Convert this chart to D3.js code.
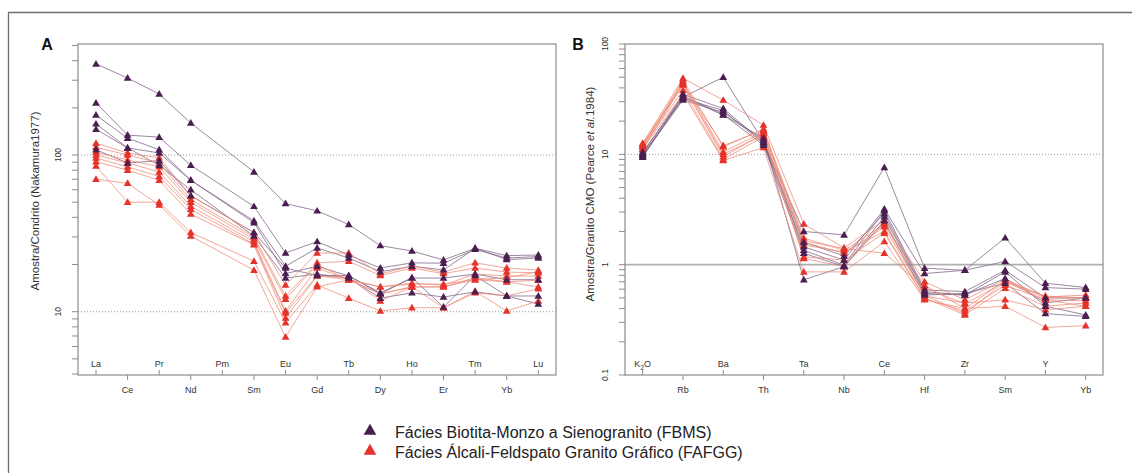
<!DOCTYPE html>
<html lang="pt">
<head>
  <meta charset="UTF-8">
  <title>Diagramas multielementares</title>
  <style>
    body { margin: 0; background: #fff; }
    svg { display: block; font-family: "Liberation Sans", Arial, sans-serif; }
  </style>
</head>
<body>
<div id="chart-container"></div>
<script src="https://d3js.org/d3.v7.min.js"></script>
<script>

// Elementos (eixo x) de cada diagrama
const reeElements = ["La", "Ce", "Pr", "Nd", "Pm", "Sm", "Eu", "Gd", "Tb", "Dy", "Ho", "Er", "Tm", "Yb", "Lu"];
const spiderElements = ["K2O", "Rb", "Ba", "Th", "Ta", "Nb", "Ce", "Hf", "Zr", "Sm", "Y", "Yb"];

// A - ETR normalizados ao condrito (Pm nao analisado)
const reeFBMS = [
  [381, 310, 245, 160, null, 78, 49, 44, 36, 26.4, 24.4, 21.4, 25.4, 22.8, 23.0],
  [215, 134, 130, 86, null, 47, 23.7, 28, 23, 19, 20.5, 20.4, 25, 22, 22.5],
  [180, 128, 108, 69, null, 38, 19.5, 25.5, 22, 18, 19.5, 18.5, 25.4, 21.5, 22],
  [158, 111, 103, 69, null, 37, 17.5, 19.5, 16.9, 13.2, 16.4, 16.4, 17.4, 16, 16],
  [146, 111, 86, 60, null, 30.4, 16.4, 17.4, 16.4, 12.2, 13.2, 12.4, 13.4, 12.6, 12.6],
  [108, 89, 92, 55, null, 32, 19, 17, 17, 13, 16.5, 10.7, 17, 12.6, 11.2]
];
const reeFAFGG = [
  [119, 103, 96, 55, null, 32, 14.8, 23.7, 23.7, 17.4, 19.6, 17.9, 20.5, 19, 18.4],
  [112, 100, 89, 52, null, 30, 12.6, 20.5, 21, 17, 19, 17.5, 19, 17.9, 17.7],
  [104, 93, 84, 50, null, 29, 12, 20, 16, 14.4, 15.2, 14.8, 17.4, 16.9, 16.9],
  [100, 89, 78, 47, null, 28, 10.1, 19, 16, 13, 14.4, 14.4, 16.5, 15.5, 15.9],
  [95.7, 84, 73, 45, null, 27, 9.8, 17, 16, 14.4, 15, 15, 16, 15.5, 14.4],
  [90.6, 80, 69, 42, null, 26.7, 9.1, 16.9, 16.5, 11.7, 14.4, 14.4, 16, 16.5, 18],
  [85, 50, 50, 32, null, 21, 8.5, 14.8, 12.2, 10.1, 10.6, 10.6, 13.5, 10.1, 11.7],
  [70, 66, 48, 30.4, null, 18.4, 6.9, 14.4, 16, 13, 14.4, 10.6, 13.2, 12.6, 14]
];

// B - normalizados ao granito de cadeia meso-oceanica
const spiderFBMS = [
  [10.5, 33, 50, 13, 2.0, 1.86, 7.6, 0.93, 0.89, 1.75, 0.68, 0.62],
  [10, 32, 25, 12.5, 1.45, 1.1, 3.2, 0.83, 0.89, 1.07, 0.62, 0.60],
  [9.8, 31, 24, 13.5, 1.35, 0.99, 3.1, 0.59, 0.57, 0.89, 0.5, 0.5],
  [9.5, 34, 23, 12.1, 1.27, 0.96, 2.72, 0.55, 0.53, 0.86, 0.42, 0.35],
  [9.4, 33, 22.7, 14, 0.73, 0.96, 2.5, 0.53, 0.55, 0.68, 0.36, 0.34],
  [10.2, 35, 26, 12.8, 1.6, 1.2, 2.9, 0.57, 0.53, 0.75, 0.45, 0.5]
];
const spiderFAFGG = [
  [12.6, 49, 31, 18.4, 2.34, 1.42, 2.54, 0.70, 0.48, 0.74, 0.51, 0.53],
  [12, 47, 11.7, 17, 1.74, 1.35, 2.3, 0.65, 0.40, 0.72, 0.50, 0.50],
  [11.5, 45, 10.5, 16, 1.6, 1.27, 2.2, 0.53, 0.36, 0.70, 0.48, 0.47],
  [11, 43, 10, 15, 1.51, 1.3, 2.0, 0.50, 0.35, 0.61, 0.42, 0.45],
  [12.2, 42.4, 9.5, 15.5, 1.18, 1.1, 1.93, 0.49, 0.38, 0.65, 0.48, 0.42],
  [11.8, 38, 9, 14.5, 1.14, 0.96, 2.4, 0.52, 0.45, 0.48, 0.39, 0.42],
  [11.2, 35.2, 8.8, 11.5, 0.86, 0.86, 1.62, 0.48, 0.40, 0.42, 0.27, 0.28],
  [12.4, 44, 12, 16.5, 1.65, 1.4, 1.27, 0.62, 0.44, 0.70, 0.52, 0.5]
];

const legendLabels = ["Fácies Biotita-Monzo a Sienogranito (FBMS)", "Fácies Álcali-Feldspato Granito Gráfico (FAFGG)"];

const colors = {
  fbmsMark: "#4a1e50", fbmsLine: "#7d6283",
  fafggMark: "#e5322b", fafggLine: "#ee8a76",
  axis: "#8c8c8c", text: "#333"
};

const svg = d3.select("#chart-container")
  .append("svg")
  .attr("width", 1132)
  .attr("height", 473);

// moldura externa (so topo e esquerda aparecem)
svg.append("path")
  .attr("d", "M8.5,473V12.5H1132")
  .attr("fill", "none")
  .attr("stroke", "#6e6e6e")
  .attr("stroke-width", 1.3);

const triangle = d3.symbol().type(d3.symbolTriangle).size(26);

function drawPanel(opt) {
  const g = svg.append("g");
  const x = d3.scalePoint().domain(opt.elements).range(opt.xRange);
  const y = d3.scaleLog().domain(opt.yDomain).range(opt.yRange);
  const [left, right, top, bottom] = opt.box;

  // linhas de referencia
  opt.dotted.forEach(v => {
    g.append("line")
      .attr("x1", left).attr("x2", right)
      .attr("y1", y(v)).attr("y2", y(v))
      .attr("stroke", "#9a9a9a").attr("stroke-dasharray", "1,2");
  });
  (opt.solid || []).forEach(v => {
    g.append("line")
      .attr("x1", left).attr("x2", right)
      .attr("y1", y(v)).attr("y2", y(v))
      .attr("stroke", "#b0b0b0").attr("stroke-width", 1.6);
  });

  // caixa
  g.append("rect")
    .attr("x", left).attr("y", top)
    .attr("width", right - left).attr("height", bottom - top)
    .attr("fill", "none")
    .attr("stroke", colors.axis)
    .attr("stroke-width", 1.2);

  // ticks do eixo y (log)
  const minor = [];
  for (let e = -1; e <= 2; e++) {
    for (let m = 1; m <= 9; m++) {
      const v = m * Math.pow(10, e);
      const yy = y(v);
      if (yy >= top - 0.5 && yy <= bottom + 0.5) minor.push(v);
    }
  }
  g.selectAll(".ytick")
    .data(minor)
    .enter().append("line")
    .attr("x1", left - 6).attr("x2", left)
    .attr("y1", d => y(d)).attr("y2", d => y(d))
    .attr("stroke", colors.axis);

  g.selectAll(".ylab")
    .data(opt.yLabels)
    .enter().append("text")
    .attr("transform", d => `translate(${left - 17},${y(d)}) rotate(-90)`)
    .attr("text-anchor", "middle")
    .style("font-size", "8.5px")
    .style("fill", colors.text)
    .text(d => String(d));

  // titulo do eixo y
  const title = g.append("text")
    .attr("transform", `translate(${opt.titleX},${opt.titleY}) rotate(-90)`)
    .attr("text-anchor", "middle")
    .style("font-size", "11.5px")
    .style("fill", colors.text);
  opt.title.forEach(part => {
    title.append("tspan")
      .style("font-style", part.italic ? "italic" : "normal")
      .text(part.t);
  });

  // eixo x: alternando rotulos dentro e fora
  opt.elements.forEach((el, i) => {
    const xx = x(el);
    const inside = i % 2 === 0;
    g.append("line")
      .attr("x1", xx).attr("x2", xx)
      .attr("y1", bottom).attr("y2", inside ? bottom - 5 : bottom + 5)
      .attr("stroke", colors.axis);
    const t = g.append("text")
      .attr("x", xx)
      .attr("y", inside ? bottom - 8 : bottom + 18)
      .attr("text-anchor", "middle")
      .style("font-size", "9px")
      .style("fill", colors.text);
    if (el === "K2O") {
      t.append("tspan").text("K");
      t.append("tspan").attr("dy", 2.5).style("font-size", "6.5px").text("2");
      t.append("tspan").attr("dy", -2.5).text("O");
    } else {
      t.text(el);
    }
  });

  // amostras
  const line = d3.line().x(d => x(d[0])).y(d => y(d[1]));
  const pts = row => row.map((v, i) => [opt.elements[i], v]).filter(d => d[1] != null);

  [[opt.groups[0], colors.fbmsLine], [opt.groups[1], colors.fafggLine]].forEach(([rows, c]) => {
    g.selectAll(null)
      .data(rows)
      .enter().append("path")
      .attr("d", r => line(pts(r)))
      .attr("fill", "none")
      .attr("stroke", c)
      .attr("stroke-width", 0.9)
      .attr("stroke-opacity", 0.85);
  });

  [[opt.groups[1], colors.fafggMark], [opt.groups[0], colors.fbmsMark]].forEach(([rows, c]) => {
    g.selectAll(null)
      .data(rows.flatMap(pts))
      .enter().append("path")
      .attr("d", triangle)
      .attr("transform", d => `translate(${x(d[0])},${y(d[1]) + 0.5})`)
      .attr("fill", c);
  });

  // letra do painel
  g.append("text")
    .attr("x", opt.letter[0]).attr("y", opt.letter[1])
    .attr("text-anchor", "middle")
    .style("font-size", "16px")
    .style("font-weight", "bold")
    .style("fill", "#111")
    .text(opt.letterText);
}

drawPanel({
  elements: reeElements,
  groups: [reeFBMS, reeFAFGG],
  box: [78, 556, 44, 375],
  xRange: [96, 538.3],
  yDomain: [10, 100],
  yRange: [311.7, 155],
  yLabels: [10, 100],
  dotted: [10, 100],
  title: [{ t: "Amostra/Condrito (Nakamura1977)" }],
  titleX: 39, titleY: 201,
  letter: [47, 50], letterText: "A"
});

drawPanel({
  elements: spiderElements,
  groups: [spiderFBMS, spiderFAFGG],
  box: [625, 1103, 44, 375],
  xRange: [642.7, 1085.7],
  yDomain: [0.1, 100],
  yRange: [375, 44],
  yLabels: [0.1, 1, 10, 100],
  dotted: [10],
  solid: [1],
  title: [{ t: "Amostra/Granito CMO (Pearce " }, { t: "et al.", italic: true }, { t: "1984)" }],
  titleX: 594, titleY: 194,
  letter: [578, 50], letterText: "B"
});

// legenda
const legend = svg.append("g");
legendLabels.forEach((label, i) => {
  const yy = 431 + i * 20;
  legend.append("path")
    .attr("d", d3.symbol().type(d3.symbolTriangle).size(70))
    .attr("transform", `translate(370,${yy})`)
    .attr("fill", i === 0 ? colors.fbmsMark : colors.fafggMark);
  legend.append("text")
    .attr("x", 395).attr("y", yy + 6.5)
    .style("font-size", "16px")
    .style("fill", "#222")
    .text(label);
});

</script>
</body>
</html>
